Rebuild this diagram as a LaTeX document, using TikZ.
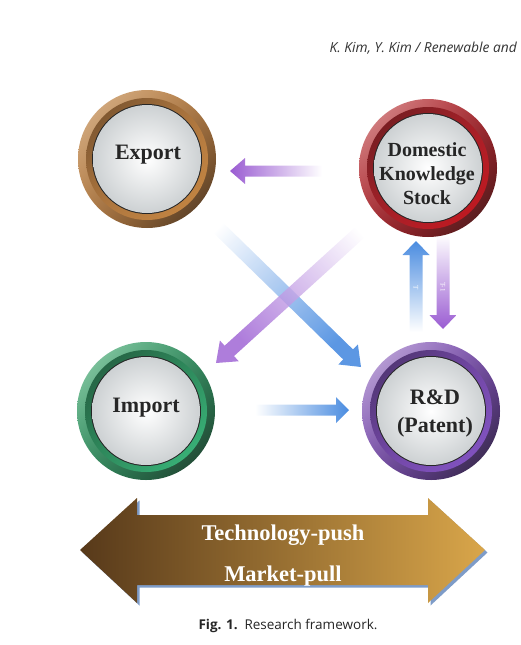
\documentclass[tikz,border=0pt]{standalone}
\usepackage{fontspec}
\setmainfont{Liberation Serif}
\newfontfamily\capfont{Open Sans}
\usetikzlibrary{calc,shadings}
\definecolor{labelgray}{HTML}{262626}
\definecolor{ballgrey}{HTML}{CDD1D3}
\definecolor{arrpurple}{HTML}{9A5CD2}
\definecolor{arrblue}{HTML}{4A8CE0}
\definecolor{expL}{HTML}{DDB890}\definecolor{expM}{HTML}{B07840}\definecolor{expD}{HTML}{44301E}\definecolor{expR}{HTML}{C98842}
\definecolor{domL}{HTML}{E09A9A}\definecolor{domM}{HTML}{A8222A}\definecolor{domD}{HTML}{3E1818}\definecolor{domR}{HTML}{C8161E}
\definecolor{impL}{HTML}{94D4B0}\definecolor{impM}{HTML}{2E8A5C}\definecolor{impD}{HTML}{1C3628}\definecolor{impR}{HTML}{3CBE80}
\definecolor{rndL}{HTML}{CCB6E4}\definecolor{rndM}{HTML}{7448A8}\definecolor{rndD}{HTML}{2A2038}\definecolor{rndR}{HTML}{8656C8}
\definecolor{bandL}{HTML}{57391A}\definecolor{bandR}{HTML}{D9A64A}
\definecolor{bandshadow}{HTML}{7E9CC8}

\tikzset{
  balltext/.style={font=\bfseries\fontsize{20}{24}\selectfont, text=labelgray, align=center, inner sep=0pt},
  balltextbig/.style={font=\bfseries\fontsize{22}{28}\selectfont, text=labelgray, align=center, inner sep=0pt},
  bandtext/.style={font=\bfseries\fontsize{22.5}{26}\selectfont, text=white, inner sep=0pt},
}

% #1 name, #2 centre, #3 light, #4 mid, #5 dark, #6 ring colour
\newcommand\ballshape[6]{%
  \coordinate (#1) at (#2);
  \shade[upper left=#3, upper right=#4, lower left=#4, lower right=#5] (#1) circle (69);
  \shade[upper left=#5!60!#4, upper right=#4, lower left=#4, lower right=#6] (#1) circle (61);
  \fill[black!85] (#1) circle (55);
  \shade[inner color=white, outer color=ballgrey] (#1) circle (54);
}

% #1 tail, #2 tip, #3 half shaft, #4 half head, #5 head length, #6 options
\newcommand\fatarrow[6]{%
  \coordinate (#1n) at ($(#2)!#5!(#1)$);
  \shade[#6] ($(#1)!#3!90:(#2)$) -- ($(#1n)!#3!90:(#2)$) -- ($(#1n)!#4!90:(#2)$)
    -- (#2) -- ($(#1n)!#4!-90:(#2)$) -- ($(#1n)!#3!-90:(#2)$) -- ($(#1)!#3!-90:(#2)$) -- cycle;
}

\begin{document}
\begin{tikzpicture}[x=1pt, y=-1pt]
\useasboundingbox (0,0) rectangle (521,645);

% header
\node[font=\capfont\itshape\fontsize{13.8}{16}\selectfont, text=black!80, anchor=east, inner sep=0pt] (hdr) at (517,48) {K. Kim, Y. Kim / Renewable and};

% arrow end points
\coordinate (a1t) at (322,171); \coordinate (a1h) at (230,171);
\coordinate (a2t) at (198,208); \coordinate (a2h) at (361,367);
\coordinate (a3t) at (380,214); \coordinate (a3h) at (216,363);
\coordinate (a4t) at (255,410); \coordinate (a4h) at (349,410);
\coordinate (a5t) at (416,332); \coordinate (a5h) at (416,241);
\coordinate (a6t) at (443,234); \coordinate (a6h) at (443,329);

\fatarrow{a1t}{a1h}{5.5pt}{13pt}{15pt}{top color=white, bottom color=arrpurple, shading angle=270}
\fatarrow{a2t}{a2h}{7pt}{14pt}{18pt}{top color=white, bottom color=arrblue, shading angle=45.7, opacity=0.9}
\fatarrow{a3t}{a3h}{7pt}{14pt}{18pt}{top color=white, bottom color=arrpurple, shading angle=312.2, opacity=0.8}
\fatarrow{a4t}{a4h}{5.5pt}{13pt}{13pt}{top color=white, bottom color=arrblue, shading angle=90}
\fatarrow{a5t}{a5h}{6.5pt}{13.5pt}{14pt}{top color=white, bottom color=arrblue, shading angle=180}
\fatarrow{a6t}{a6h}{6.5pt}{13.5pt}{14pt}{top color=white, bottom color=arrpurple, shading angle=0}

\node[font=\fontsize{7}{8}\selectfont, text=white, rotate=-90, inner sep=0pt] (lt) at (416,288) {T};
\node[font=\fontsize{7}{8}\selectfont, text=white, rotate=-90, inner sep=0pt] (lt1) at (443,287) {T-1};

% balls
\ballshape{exp}{147,159}{expL}{expM}{expD}{expR}
\ballshape{dom}{428,168}{domL}{domM}{domD}{domR}
\ballshape{imp}{146,411}{impL}{impM}{impD}{impR}
\ballshape{rnd}{431,411}{rndL}{rndM}{rndD}{rndR}

\node[balltextbig] (expt) at (148,155) {Export};
\node[balltext] (domt) at (427,174) {Domestic\\Knowledge\\Stock};
\node[balltextbig] (impt) at (146,408) {Import};
\node[balltextbig] (rndt) at (435,414) {R\&D\\(Patent)};

% bottom double arrow
\begin{scope}[shift={(2.5,2.5)}]
\fill[bandshadow] (80,550) -- (137,498) -- (137,515) -- (428,515) -- (428,498) -- (485,550)
   -- (428,603) -- (428,585) -- (137,585) -- (137,603) -- cycle;
\end{scope}
\shade[left color=bandL, right color=bandR] (80,550) -- (137,498) -- (137,515) -- (428,515) -- (428,498) -- (485,550)
   -- (428,603) -- (428,585) -- (137,585) -- (137,603) -- cycle;
\node[bandtext] (tp) at (283,535) {Technology-push};
\node[bandtext] (mp) at (283,576) {Market-pull};

% caption
\node[font=\capfont\fontsize{13.5}{15}\selectfont, text=black!85, inner sep=0pt] (cap) at (288,626) {\textbf{Fig. 1.}\enspace Research framework.};
\end{tikzpicture}
\end{document}
